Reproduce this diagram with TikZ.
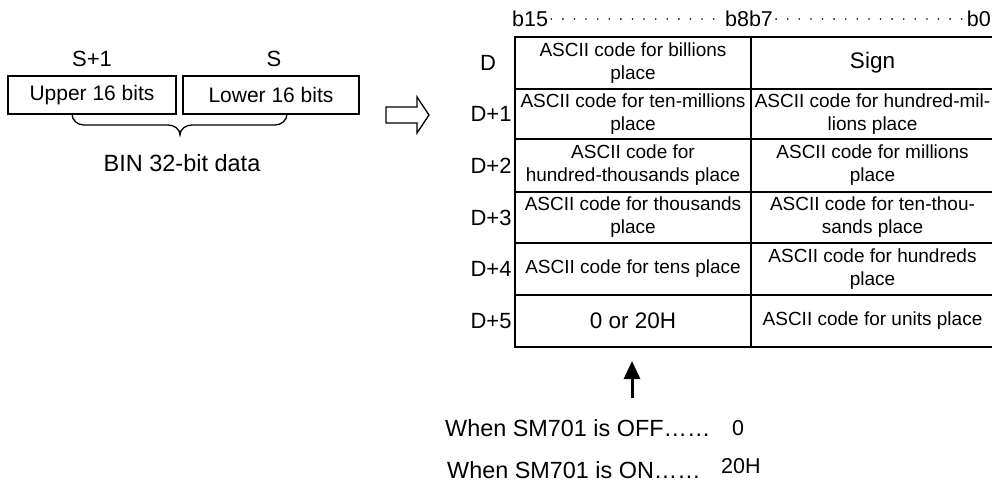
\documentclass[tikz,border=0pt]{standalone}
\usepackage{fontspec}
\setmainfont{Liberation Sans}
\usetikzlibrary{arrows.meta}
\begin{document}
\begin{tikzpicture}[x=1pt,y=-1pt,
  cell/.style={draw, line width=1.6pt, inner sep=0pt, align=center, font=\fontsize{19}{23}\selectfont},
  lcell/.style={cell, minimum width=236pt},
  rcell/.style={cell, minimum width=243pt},
  bigcell/.style={font=\fontsize{22.5}{26}\selectfont},
  rowlabel/.style={inner sep=0pt, font=\fontsize{22}{26}\selectfont},
  hdr/.style={inner sep=0pt, font=\fontsize{21.5}{26}\selectfont},
  wbox/.style={draw, line width=1.4pt, inner sep=0pt, minimum height=38pt, font=\fontsize{21}{25}\selectfont},
  plain/.style={inner sep=0pt, font=\fontsize{22}{26}\selectfont},
  note/.style={inner sep=0pt, font=\fontsize{23.4}{28}\selectfont},
  hdots/.style={line width=1.8pt, line cap=round, dash pattern=on 0pt off 11.6pt}
]
\useasboundingbox (0,0) rectangle (992,485);

% left: source data
\node[wbox, minimum width=168pt] (upper) at (92,95) {Upper 16 bits};
\node[wbox, minimum width=176pt] (lower) at (271,95) {Lower 16 bits};
\node[plain] (s1) at (92,59) {S+1};
\node[plain] (s0) at (274,59) {S};
\draw[line width=1.3pt] (72,114) to[out=-90,in=180] (84,125) -- (168,125)
  to[out=0,in=90] (180,135) to[out=90,in=180] (192,125) -- (275,125)
  to[out=0,in=-90] (287,114);
\node[plain, font=\fontsize{23.5}{28}\selectfont] (bin) at (182,163) {BIN 32-bit data};

% hollow arrow
\draw[line width=1.3pt, line join=miter] (386,107) -- (417,107) -- (417,97) -- (429,115)
  -- (417,133) -- (417,123) -- (386,123) -- cycle;

% header
\node[hdr, anchor=base west] (b15) at (512,26) {b15};
\node[hdr, anchor=base] (b87) at (749,26) {b8b7};
\node[hdr, anchor=base east] (b0) at (991,26) {b0};
\draw[hdots] ([xshift=3pt,yshift=7pt]b15.base east) -- ([xshift=-2pt,yshift=7pt]b87.base west);
\draw[hdots] ([xshift=3pt,yshift=7pt]b87.base east) -- ([xshift=-2pt,yshift=7pt]b0.base west);

% table
\node[lcell, minimum height=52pt] (l0) at (633,63) {ASCII code for billions\\place};
\node[rcell, minimum height=52pt, bigcell] (r0) at (872.5,63) {Sign};
\node[lcell, minimum height=50pt] (l1) at (633,114) {ASCII code for ten-millions\\place};
\node[rcell, minimum height=50pt] (r1) at (872.5,114) {ASCII code for hundred-mil-\\lions place};
\node[lcell, minimum height=53pt] (l2) at (633,165.5) {ASCII code for\\hundred-thousands place};
\node[rcell, minimum height=53pt] (r2) at (872.5,165.5) {ASCII code for millions\\place};
\node[lcell, minimum height=51pt] (l3) at (633,217.5) {ASCII code for thousands\\place};
\node[rcell, minimum height=51pt] (r3) at (872.5,217.5) {ASCII code for ten-thou-\\sands place};
\node[lcell, minimum height=52pt] (l4) at (633,269) {ASCII code for tens place};
\node[rcell, minimum height=52pt] (r4) at (872.5,269) {ASCII code for hundreds\\place};
\node[lcell, minimum height=52pt, bigcell] (l5) at (633,321) {0 or 20H};
\node[rcell, minimum height=52pt] (r5) at (872.5,321) {ASCII code for units place};

% row labels
\node[rowlabel] (d0) at (488,63) {D};
\node[rowlabel] (d1) at (491,114) {D+1};
\node[rowlabel] (d2) at (491,165.5) {D+2};
\node[rowlabel] (d3) at (491,217.5) {D+3};
\node[rowlabel] (d4) at (491,269) {D+4};
\node[rowlabel] (d5) at (491,321) {D+5};

% arrow and notes
\coordinate (atail) at (632,398);
\coordinate (ahead) at (632,361);
\draw[line width=3pt, -{Triangle[width=16pt,length=18pt]}] (atail) -- (ahead);
\node[note, anchor=base west] (off) at (445,436) {When SM701 is OFF……};
\node[note, anchor=base west, font=\fontsize{21.5}{26}\selectfont] (v0) at (732,435) {0};
\node[note, anchor=base west] (on) at (447,478) {When SM701 is ON……};
\node[note, anchor=base west, font=\fontsize{21.5}{26}\selectfont] (v20) at (721,473) {20H};
\end{tikzpicture}
\end{document}
